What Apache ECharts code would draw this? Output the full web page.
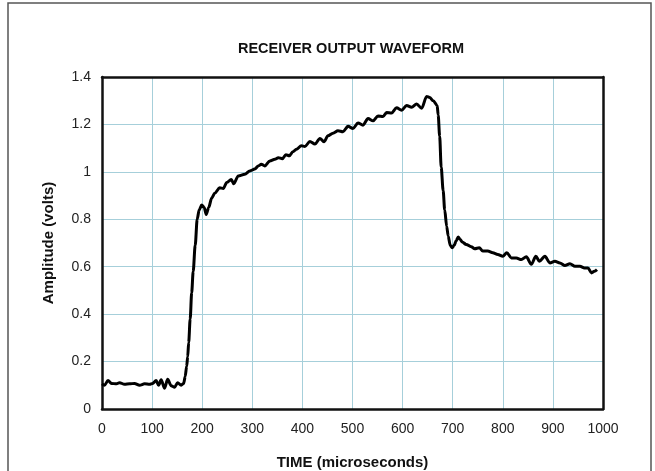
<!DOCTYPE html>
<html>
<head>
<meta charset="utf-8">
<title>Receiver output waveform</title>
<script src="https://cdn.jsdelivr.net/npm/echarts@6/dist/echarts.min.js"></script>
<style>
  html, body { margin: 0; padding: 0; background: #fff; }
  #chart { width: 655px; height: 471px; }
</style>
</head>
<body>
<div id="chart"></div>
<script>
const timeUs = [
  0, 5, 12, 19, 29, 35, 45, 55, 65, 75, 85, 95, 101, 108, 113, 118, 125, 131, 138, 145,
  151, 158, 163, 166, 169, 171, 173, 176, 179, 182, 186, 190, 194, 199, 204, 208,
  213, 219, 225, 235, 242, 249, 258, 263, 272, 285, 295, 305, 312, 318, 325, 335, 345,
  352, 360, 367, 374, 381, 388, 398, 405, 415, 425, 435, 443, 451, 461, 471, 481, 491,
  501, 511, 521, 531, 541, 551, 561, 568, 578, 588, 598, 608, 618, 628, 638, 648, 654,
  661, 669, 671, 674, 677, 681, 684, 688, 691, 695, 699, 703, 707, 711, 715, 719, 727,
  737, 744, 753, 760, 770, 780, 790, 800, 808, 817, 827, 837, 847, 857, 866, 873, 884,
  894, 904, 914, 924, 934, 944, 954, 963, 970, 977, 983, 988
];
const amplitude = [
  0.106, 0.100, 0.120, 0.108, 0.106, 0.111, 0.104, 0.106, 0.108, 0.100, 0.106, 0.104, 0.108, 0.120, 0.100, 0.123, 0.088, 0.125, 0.098, 0.092,
  0.111, 0.100, 0.108, 0.137, 0.180, 0.220, 0.280, 0.380, 0.490, 0.580, 0.690, 0.800, 0.840, 0.860, 0.850, 0.820,
  0.850, 0.890, 0.910, 0.933, 0.930, 0.955, 0.968, 0.950, 0.983, 0.990, 1.004, 1.012, 1.025, 1.032, 1.025, 1.046, 1.053,
  1.060, 1.055, 1.072, 1.068, 1.085, 1.095, 1.110, 1.107, 1.128, 1.117, 1.141, 1.127, 1.152, 1.163, 1.173, 1.169, 1.192,
  1.183, 1.206, 1.197, 1.225, 1.215, 1.236, 1.233, 1.250, 1.248, 1.270, 1.260, 1.280, 1.272, 1.286, 1.268, 1.318, 1.314,
  1.300, 1.280, 1.240, 1.150, 1.020, 0.920, 0.840, 0.770, 0.730, 0.690, 0.680, 0.690, 0.710, 0.725, 0.715, 0.704, 0.694,
  0.684, 0.676, 0.680, 0.666, 0.666, 0.659, 0.652, 0.644, 0.659, 0.637, 0.637, 0.630, 0.642, 0.610, 0.644, 0.623, 0.644,
  0.616, 0.623, 0.616, 0.605, 0.613, 0.602, 0.602, 0.595, 0.595, 0.574, 0.581, 0.588
];
const xTicks = { min: 0, max: 1000, step: 100 };
const yTicks = { min: 0, max: 1.4, step: 0.2 };

const chart = echarts.init(document.getElementById('chart'));
const font = 'Liberation Sans, Arial, sans-serif';
const gridBlue = '#a6cfda';
const nameStyle = { fontFamily: font, fontSize: 15, fontWeight: 'bold', color: '#111' };

chart.setOption({
  backgroundColor: '#fff',
  animation: false,
  title: {
    text: 'RECEIVER OUTPUT WAVEFORM',
    left: 346,
    textAlign: 'center',
    top: 36,
    textStyle: { fontFamily: font, fontSize: 14.5, fontWeight: 'bold', color: '#111' }
  },
  graphic: [{
    type: 'rect',
    shape: { x: 8, y: 3, width: 643, height: 480 },
    style: { fill: 'none', stroke: '#555', lineWidth: 1.5 },
    silent: true
  }],
  // keep the plot box fixed, don't let v6 shrink it to fit the axis names
  grid: { left: 102, right: 52, top: 77, bottom: 62, outerBoundsMode: 'none', containLabel: false },
  xAxis: [{
    type: 'value',
    min: xTicks.min, max: xTicks.max, interval: xTicks.step,
    name: 'TIME (microseconds)',
    nameLocation: 'middle',
    nameGap: 46,
    nameTextStyle: nameStyle,
    axisLine: { show: true, onZero: false, lineStyle: { color: '#111', width: 2.5 } },
    axisTick: { show: false },
    axisLabel: { margin: 13, fontFamily: font, fontSize: 14, color: '#222', formatter: v => String(v) },
    splitLine: { show: true, showMinLine: false, showMaxLine: false, lineStyle: { color: gridBlue, width: 1 } }
  }, {
    // top border of the plot frame
    type: 'value', position: 'top',
    min: xTicks.min, max: xTicks.max,
    axisLine: { show: true, onZero: false, lineStyle: { color: '#111', width: 2.5 } },
    axisTick: { show: false }, axisLabel: { show: false }, splitLine: { show: false }
  }],
  yAxis: [{
    type: 'value',
    min: yTicks.min, max: yTicks.max, interval: yTicks.step,
    name: 'Amplitude (volts)',
    nameLocation: 'middle',
    nameGap: 46,
    nameRotate: 90,
    nameTextStyle: nameStyle,
    axisLine: { show: true, onZero: false, lineStyle: { color: '#111', width: 2.5 } },
    axisTick: { show: false },
    axisLabel: { margin: 11, fontFamily: font, fontSize: 14, color: '#222',
      formatter: v => String(Math.round(v * 10) / 10) },
    splitLine: { show: true, showMinLine: false, showMaxLine: false, lineStyle: { color: gridBlue, width: 1 } }
  }, {
    // right border of the plot frame
    type: 'value', position: 'right',
    min: yTicks.min, max: yTicks.max,
    axisLine: { show: true, onZero: false, lineStyle: { color: '#111', width: 2.5 } },
    axisTick: { show: false }, axisLabel: { show: false }, splitLine: { show: false }
  }],
  series: [{
    type: 'line',
    data: timeUs.map((t, i) => [t, amplitude[i]]),
    showSymbol: false,
    smooth: 0.3,
    smoothMonotone: 'x',
    lineStyle: { color: '#000', width: 3 },
    z: 5
  }]
});
</script>
</body>
</html>
